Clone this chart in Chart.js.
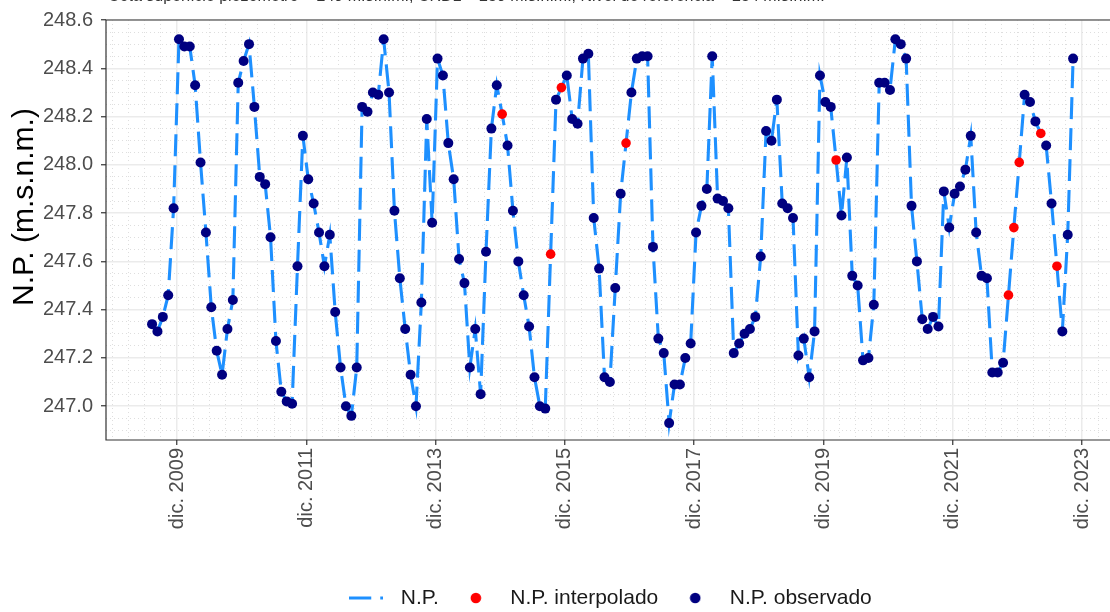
<!DOCTYPE html>
<html lang="es">
<head>
<meta charset="utf-8">
<script src="https://cdn.jsdelivr.net/npm/chart.js@4.4.1/dist/chart.umd.min.js"></script>
<style>
  html, body { margin: 0; padding: 0; background: #fff; }
  #wrap { position: relative; width: 1110px; height: 612px; overflow: hidden; }
  #subtitulo { position: absolute; left: 108px; top: -13px; font: 16px "Liberation Sans", Arial, sans-serif; color: #333; white-space: nowrap; }
</style>
</head>
<body>
<div id="wrap">
  <canvas id="grafico" width="1110" height="612"></canvas>
  <div id="subtitulo">Cota superficie piezómetro = 249 m.s.n.m.; CRDL = 239 m.s.n.m.; Nivel de referencia = 254 m.s.n.m.</div>
</div>
<script>
// mediciones mensuales del nivel piezométrico (m.s.n.m.)
const meses = [
  '2009-07','2009-08','2009-09','2009-10','2009-11','2009-12',
  '2010-01','2010-02','2010-03','2010-04','2010-05','2010-06','2010-07','2010-08','2010-09','2010-10','2010-11','2010-12',
  '2011-01','2011-02','2011-03','2011-04','2011-05','2011-06','2011-07','2011-08','2011-09','2011-10','2011-11','2011-12',
  '2012-01','2012-02','2012-03','2012-04','2012-05','2012-06','2012-07','2012-08','2012-09','2012-10','2012-11','2012-12',
  '2013-01','2013-02','2013-03','2013-04','2013-05','2013-06','2013-07','2013-08','2013-09','2013-10','2013-11','2013-12',
  '2014-01','2014-02','2014-03','2014-04','2014-05','2014-06','2014-07','2014-08','2014-09','2014-10','2014-11','2014-12',
  '2015-01','2015-02','2015-03','2015-04','2015-05','2015-06','2015-07','2015-08','2015-09','2015-10','2015-11','2015-12',
  '2016-01','2016-02','2016-03','2016-04','2016-05','2016-06','2016-07','2016-08','2016-09','2016-10','2016-11','2016-12',
  '2017-01','2017-02','2017-03','2017-04','2017-05','2017-06','2017-07','2017-08','2017-09','2017-10','2017-11','2017-12',
  '2018-01','2018-02','2018-03','2018-04','2018-05','2018-06','2018-07','2018-08','2018-09','2018-10','2018-11','2018-12',
  '2019-01','2019-02','2019-03','2019-04','2019-05','2019-06','2019-07','2019-08','2019-09','2019-10','2019-11','2019-12',
  '2020-01','2020-02','2020-03','2020-04','2020-05','2020-06','2020-07','2020-08','2020-09','2020-10','2020-11','2020-12',
  '2021-01','2021-02','2021-03','2021-04','2021-05','2021-06','2021-07','2021-08','2021-09','2021-10','2021-11','2021-12',
  '2022-01','2022-02','2022-03','2022-04','2022-05','2022-06','2022-07','2022-08','2022-09','2022-10','2022-11','2022-12',
  '2023-01','2023-02','2023-03','2023-04','2023-05','2023-06','2023-07','2023-08','2023-09','2023-10'
];
const np = [
  247.34, 247.31, 247.37, 247.46, 247.82, 248.52,
  248.49, 248.49, 248.33, 248.01, 247.72, 247.41, 247.23, 247.13, 247.32, 247.44, 248.34, 248.43,
  248.50, 248.24, 247.95, 247.92, 247.70, 247.27, 247.06, 247.02, 247.01, 247.58, 248.12, 247.94,
  247.84, 247.72, 247.58, 247.71, 247.39, 247.16, 247.00, 246.96, 247.16, 248.24, 248.22, 248.30,
  248.29, 248.52, 248.30, 247.81, 247.53, 247.32, 247.13, 247.00, 247.43, 248.19, 247.76, 248.44,
  248.37, 248.09, 247.94, 247.61, 247.51, 247.16, 247.32, 247.05, 247.64, 248.15, 248.33, 248.21,
  248.08, 247.81, 247.60, 247.46, 247.33, 247.12, 247.00, 246.99, 247.63, 248.27, 248.32, 248.37,
  248.19, 248.17, 248.44, 248.46, 247.78, 247.57, 247.12, 247.10, 247.49, 247.88, 248.09, 248.30,
  248.44, 248.45, 248.45, 247.66, 247.28, 247.22, 246.93, 247.09, 247.09, 247.20, 247.26, 247.72,
  247.83, 247.90, 248.45, 247.86, 247.85, 247.82, 247.22, 247.26, 247.30, 247.32, 247.37, 247.62,
  248.14, 248.10, 248.27, 247.84, 247.82, 247.78, 247.21, 247.28, 247.12, 247.31, 248.37, 248.26,
  248.24, 248.02, 247.79, 248.03, 247.54, 247.50, 247.19, 247.20, 247.42, 248.34, 248.34, 248.31,
  248.52, 248.50, 248.44, 247.83, 247.60, 247.36, 247.32, 247.37, 247.33, 247.89, 247.74, 247.88,
  247.91, 247.98, 248.12, 247.72, 247.54, 247.53, 247.14, 247.14, 247.18, 247.46, 247.74, 248.01,
  248.29, 248.26, 248.18, 248.13, 248.08, 247.84, 247.58, 247.31, 247.71, 248.44
];
// meses sin medición (valor interpolado)
const interpolados = ['2014-12', '2015-09', '2015-11', '2016-11', '2020-02', '2022-10', '2022-11', '2022-12', '2023-04', '2023-07'];

const fechasTicks = ['2009-12', '2011-12', '2013-12', '2015-12', '2017-12', '2019-12', '2021-12', '2023-12'];
const etiquetasX = ['dic. 2009', 'dic. 2011', 'dic. 2013', 'dic. 2015', 'dic. 2017', 'dic. 2019', 'dic. 2021', 'dic. 2023'];
const ticksY = [247.0, 247.2, 247.4, 247.6, 247.8, 248.0, 248.2, 248.4, 248.6];

const X_MIN = -2.2, X_MAX = 184.2;
const Y_MIN = 246.86, Y_MAX = 248.6;
const DESFASE = 0.35; // las lecturas caen hacia el día 11 de cada mes
const BORDE_INFERIOR = 440; // fondo del panel, en px
const fuente = '"Liberation Sans", Arial, sans-serif';

function mesAIndice(m) {
  const [a, mm] = m.split('-').map(Number);
  return (a - 2009) * 12 + (mm - 1);
}
function rango(desde, hasta, paso) {
  const r = [];
  for (let v = desde; v <= hasta + 1e-9; v += paso) r.push(+v.toFixed(4));
  return r;
}

const serie = meses.map((m, i) => ({ x: mesAIndice(m) + DESFASE, y: np[i] }));
const puntosInterp = serie.filter((p, i) => interpolados.includes(meses[i]));
const puntosObs = serie.filter((p, i) => !interpolados.includes(meses[i]));

const ticksXMayor = fechasTicks.map(mesAIndice);
const ticksXMenor = rango(-1, X_MAX, 3).filter(v => !ticksXMayor.includes(v));
const ticksYMenor = rango(246.9, 248.55, 0.05).filter(v => !ticksY.some(t => Math.abs(t - v) < 1e-6));

// iconos de la leyenda (línea discontinua y puntos)
function iconoLinea(ds) {
  const c = document.createElement('canvas');
  c.width = 34; c.height = 5;
  const g = c.getContext('2d');
  g.strokeStyle = ds.borderColor;
  g.lineWidth = ds.borderWidth;
  g.setLineDash(ds.borderDash);
  g.beginPath(); g.moveTo(0, 2.5); g.lineTo(34, 2.5); g.stroke();
  return c;
}
function iconoPunto(ds) {
  const c = document.createElement('canvas');
  c.width = 12; c.height = 12;
  const g = c.getContext('2d');
  g.fillStyle = ds.pointBackgroundColor;
  g.beginPath(); g.arc(6, 6, 5.3, 0, Math.PI * 2); g.fill();
  return c;
}

const marco = {
  id: 'marco',
  afterDatasetsDraw(chart) {
    const { ctx, chartArea: a } = chart;
    ctx.save();
    ctx.strokeStyle = '#333';
    ctx.lineWidth = 1.2;
    ctx.beginPath();
    ctx.moveTo(a.right, a.top);
    ctx.lineTo(a.left, a.top);
    ctx.lineTo(a.left, a.bottom);
    ctx.lineTo(a.right, a.bottom);
    ctx.stroke();
    ctx.restore();
  }
};

const tituloY = {
  id: 'tituloY',
  afterDraw(chart) {
    const ctx = chart.ctx;
    ctx.save();
    ctx.translate(25, 207);
    ctx.rotate(-Math.PI / 2);
    ctx.textAlign = 'center';
    ctx.textBaseline = 'middle';
    ctx.font = '30px ' + fuente;
    ctx.fillStyle = '#000';
    ctx.fillText('N.P. (m.s.n.m.)', 0, 0);
    ctx.restore();
  }
};

// la leyenda de ggplot va centrada en el panel (que sigue fuera del recorte)
const moverLeyenda = {
  id: 'moverLeyenda',
  afterUpdate(chart) {
    const l = chart.legend;
    const dy = 598 - (l.top + 13 + 10.5);
    l.left += 52; l.right += 52;
    l.top += dy; l.bottom += dy;
  }
};

new Chart(document.getElementById('grafico'), {
  type: 'line',
  data: {
    datasets: [
      {
        label: 'N.P.',
        data: serie,
        borderColor: '#1e90ff',
        borderWidth: 3.1,
        borderDash: [22, 9],
        pointRadius: 0,
        tension: 0,
        fill: false,
        order: 3
      },
      {
        label: 'N.P. interpolado',
        data: puntosInterp,
        showLine: false,
        pointRadius: 4.8,
        pointBorderWidth: 0,
        pointBackgroundColor: '#ff0000',
        backgroundColor: '#ff0000',
        borderColor: '#ff0000',
        order: 2
      },
      {
        label: 'N.P. observado',
        data: puntosObs,
        showLine: false,
        pointRadius: 5,
        pointBorderWidth: 0,
        pointBackgroundColor: '#000080',
        backgroundColor: '#000080',
        borderColor: '#000080',
        order: 1
      }
    ]
  },
  options: {
    responsive: false,
    animation: false,
    layout: { autoPadding: false, padding: { top: 17, left: 0, right: 0, bottom: 0 } },
    plugins: {
      tooltip: { enabled: false },
      legend: {
        position: 'bottom',
        labels: {
          usePointStyle: true,
          pointStyleWidth: 48,
          boxHeight: 11,
          padding: 13,
          color: '#1a1a1a',
          font: { size: 21, family: fuente },
          sort: (a, b) => a.datasetIndex - b.datasetIndex,
          generateLabels: chart => Chart.defaults.plugins.legend.labels.generateLabels(chart).map(item => {
            const ds = chart.data.datasets[item.datasetIndex];
            item.pointStyle = ds.showLine === false ? iconoPunto(ds) : iconoLinea(ds);
            item.lineWidth = 0;
            return item;
          })
        }
      }
    },
    scales: {
      x: {
        type: 'linear',
        min: X_MIN, max: X_MAX,
        afterBuildTicks: s => { s.ticks = ticksXMayor.map(v => ({ value: v })); },
        afterFit: s => {
          s.height = s.chart.height - BORDE_INFERIOR - s.chart.legend.height;
          s.paddingLeft = 0; s.paddingRight = 0;
        },
        ticks: {
          autoSkip: false, minRotation: 90, maxRotation: 90, padding: 3,
          color: '#4d4d4d', font: { size: 20, family: fuente },
          callback: (v, i) => etiquetasX[i]
        },
        grid: { color: '#ebebeb', lineWidth: 1.5, tickColor: '#333', tickLength: 5, tickWidth: 1.2 },
        border: { display: false }
      },
      xMenor: {
        type: 'linear', position: 'bottom',
        min: X_MIN, max: X_MAX,
        afterBuildTicks: s => { s.ticks = ticksXMenor.map(v => ({ value: v })); },
        afterFit: s => { s.height = 0; s.paddingLeft = 0; s.paddingRight = 0; },
        ticks: { display: false },
        grid: { color: '#dedede', lineWidth: 1, drawTicks: false },
        border: { display: false, dash: [1, 3] }
      },
      y: {
        min: Y_MIN, max: Y_MAX,
        afterBuildTicks: s => { s.ticks = ticksY.map(v => ({ value: v })); },
        afterFit: s => { s.width = 106; },
        ticks: {
          padding: 8, color: '#4d4d4d', font: { size: 20, family: fuente },
          callback: v => v.toFixed(1)
        },
        grid: { color: '#ebebeb', lineWidth: 1.5, tickColor: '#333', tickLength: 5, tickWidth: 1.2 },
        border: { display: false }
      },
      yMenor: {
        position: 'left',
        min: Y_MIN, max: Y_MAX,
        afterBuildTicks: s => { s.ticks = ticksYMenor.map(v => ({ value: v })); },
        afterFit: s => { s.width = 0; },
        ticks: { display: false },
        grid: { color: '#dedede', lineWidth: 1, drawTicks: false },
        border: { display: false, dash: [1, 3] }
      }
    }
  },
  plugins: [marco, tituloY, moverLeyenda]
});
</script>
</body>
</html>
